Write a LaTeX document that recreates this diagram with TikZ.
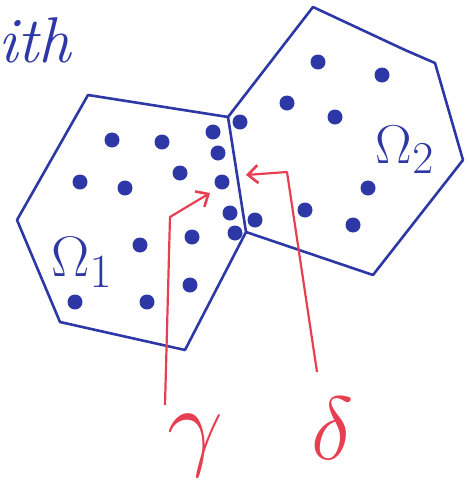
\documentclass[tikz,border=0pt]{standalone}
\usepackage{tikz}
\usetikzlibrary{arrows.meta, positioning}
\usepackage{xcolor}

\definecolor{penblue}{RGB}{45,55,165}
\definecolor{penred}{RGB}{232,62,82}

\begin{document}
\begin{tikzpicture}[
  x=1pt, y=-1pt,
  edge/.style={draw=penblue, line width=2.6pt, line join=round, line cap=round},
  pt/.style={circle, fill=penblue, inner sep=0pt, minimum size=15pt},
  lbl/.style={text=penblue, font=\Huge, inner sep=0pt},
  greek/.style={text=penred, font=\Huge, inner sep=0pt},
  arrow/.style={draw=penred, line width=2.2pt, line join=round,
    -{Straight Barb[length=10pt, width=18pt, line width=2.6pt]}}
]
  \useasboundingbox (0,0) rectangle (470,485);

  % Corners
  \coordinate (m1) at (228,117);
  \coordinate (m2) at (246,232);
  \coordinate (a1) at (88,95);
  \coordinate (a2) at (17,220);
  \coordinate (a3) at (60,322);
  \coordinate (a4) at (185,350);
  \coordinate (b1) at (313,7);
  \coordinate (b2) at (405,50);
  \coordinate (b3) at (435,63);
  \coordinate (b4) at (463,160);
  \coordinate (b5) at (373,275);

  % Domains
  \draw [edge] (m1) -- (a1) -- (a2) -- (a3) -- (a4) -- (m2) -- cycle;
  \draw [edge] (m1) -- (b1) -- (b2) -- (b3) -- (b4) -- (b5) -- (m2);

  % Points in Omega 1
  \foreach \p in {(112,140), (162,142), (80,182), (125,188), (180,173),
                  (213,132), (218,153), (222,182), (230,213), (235,233),
                  (192,237), (140,245), (190,285), (147,302), (75,302)}
    \node [pt] at \p {};

  % Points in Omega 2
  \foreach \p in {(240,122), (318,62), (382,75), (287,103), (335,117),
                  (255,220), (305,210), (368,188), (353,225)}
    \node [pt] at \p {};

  % Labels
  \node (txt) [lbl, scale=2.6, anchor=west] at (-2,40) {\itshape ith};
  \node (om1) [lbl, scale=2.3] at (82,262) {$\Omega_1$};
  \node (om2) [lbl, scale=2.2] at (405,150) {$\Omega_2$};
  \node (gam) [greek, scale=4.0] at (195,446) {$\gamma$};
  \node (del) [greek, scale=3.6] at (333,428) {$\delta$};

  % Pointers
  \coordinate (g0) at (165,405);
  \coordinate (g1) at (170,217);
  \coordinate (g2) at (210,193);
  \coordinate (d0) at (317,372);
  \coordinate (d1) at (287,172);
  \coordinate (d2) at (246,175);

  \draw [arrow] (g0) -- (g1) -- (g2);
  \draw [arrow] (d0) -- (d1) -- (d2);

\end{tikzpicture}
\end{document}
